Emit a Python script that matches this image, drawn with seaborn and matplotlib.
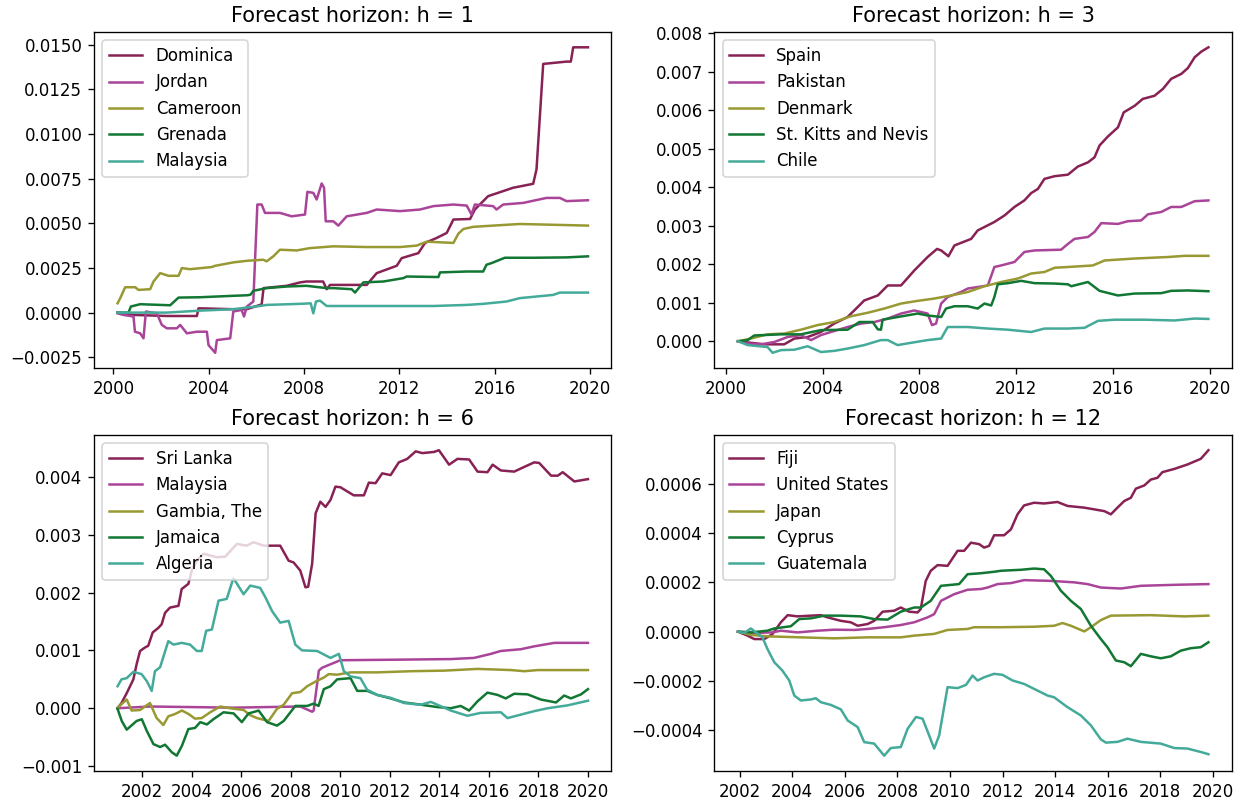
import matplotlib
matplotlib.use("Agg")
import matplotlib.pyplot as plt
import pandas as pd
import seaborn as sns

PALETTE = ["#882255", "#AA4499", "#999933", "#117733", "#44AA99"]

# ---- Forecast horizon h = 1 : (year, cumulative value) ----
dominica = [(2000.17, 0.0), (2000.84, -0.00013), (2002.24, -0.00019), (2003.5, -0.00019),
            (2003.57, 0.00024), (2005.03, 0.00019), (2005.6, 0.00019), (2006.15, 0.00043),
            (2006.22, 0.00045), (2006.3, 0.00137), (2007.27, 0.0015), (2007.83, 0.00169),
            (2008.1, 0.00174), (2008.8, 0.00174), (2008.95, 0.00131), (2009.09, 0.00155),
            (2010.63, 0.00155), (2011.05, 0.00221), (2011.89, 0.00262), (2012.1, 0.00305),
            (2012.8, 0.00333), (2013.08, 0.0039), (2013.57, 0.00418), (2013.99, 0.00446),
            (2014.27, 0.00521), (2014.97, 0.00524), (2015.17, 0.00577), (2015.73, 0.00652),
            (2016.36, 0.0068), (2016.78, 0.00699), (2017.62, 0.00721), (2017.76, 0.00802),
            (2018.04, 0.01392), (2019.02, 0.01405), (2019.2, 0.01405), (2019.3, 0.01485),
            (2019.92, 0.01485)]
jordan = [(2000.17, -0.00004), (2000.42, -0.00013), (2000.84, -0.00022), (2000.9, -0.00107),
          (2001.12, -0.00116), (2001.26, -0.00144), (2001.36, 0.00006), (2001.82, -0.00004),
          (2002.03, -0.00069), (2002.24, -0.00088), (2002.66, -0.00088), (2002.8, -0.00069),
          (2003.08, -0.00116), (2003.5, -0.00107), (2003.92, -0.00107), (2003.99, -0.00182),
          (2004.27, -0.00225), (2004.34, -0.00154), (2004.9, -0.00144), (2005.03, 0.00006),
          (2005.38, 0.00015), (2005.48, -0.00022), (2005.6, 0.00034), (2005.87, 0.00062),
          (2006.04, 0.00605), (2006.22, 0.00605), (2006.36, 0.00558), (2006.99, 0.00558),
          (2007.48, 0.00539), (2008.04, 0.00549), (2008.14, 0.00676), (2008.39, 0.0067),
          (2008.53, 0.00633), (2008.74, 0.00723), (2008.84, 0.00699), (2008.91, 0.00511),
          (2009.23, 0.00511), (2009.44, 0.00487), (2009.79, 0.00539), (2010.63, 0.00558),
          (2011.05, 0.00577), (2012.03, 0.00568), (2012.87, 0.00577), (2013.43, 0.00596),
          (2014.27, 0.00605), (2014.83, 0.00599), (2015.03, 0.00549), (2015.17, 0.00605),
          (2015.94, 0.00596), (2016.08, 0.00577), (2016.36, 0.00605), (2017.2, 0.00614),
          (2018.18, 0.00642), (2018.74, 0.00642), (2019.02, 0.00624), (2019.92, 0.00629)]
cameroon = [(2000.17, 0.00052), (2000.28, 0.0008), (2000.49, 0.00142), (2000.91, 0.00142),
            (2001.05, 0.00127), (2001.54, 0.00131), (2001.68, 0.00174), (2001.96, 0.00221),
            (2002.31, 0.00206), (2002.73, 0.00206), (2002.87, 0.00249), (2003.22, 0.00243),
            (2004.13, 0.00255), (2004.27, 0.00262), (2005.03, 0.00281), (2005.6, 0.0029),
            (2006.29, 0.00296), (2006.43, 0.00287), (2006.71, 0.00315), (2006.99, 0.00352),
            (2007.69, 0.00348), (2008.25, 0.00361), (2009.23, 0.00371), (2010.63, 0.00367),
            (2012.03, 0.00367), (2012.73, 0.00375), (2013.15, 0.00397), (2014.27, 0.0039),
            (2014.48, 0.00442), (2014.69, 0.00468), (2015.1, 0.0048), (2015.94, 0.00487),
            (2017.06, 0.00496), (2019.92, 0.00487)]
grenada = [(2000.17, 0.0), (2000.63, 0.0), (2000.73, 0.00034), (2001.12, 0.00047),
           (2002.38, 0.00041), (2002.73, 0.00084), (2003.64, 0.00086), (2005.03, 0.00094),
           (2005.6, 0.00097), (2005.75, 0.001), (2005.87, 0.00122), (2006.43, 0.00137),
           (2007.27, 0.00146), (2008.1, 0.0015), (2008.95, 0.00137), (2009.23, 0.00137),
           (2010.0, 0.00131), (2010.14, 0.00112), (2010.49, 0.00169), (2011.33, 0.00174),
           (2012.17, 0.00193), (2012.31, 0.00202), (2013.64, 0.00199), (2013.71, 0.00225),
           (2014.83, 0.0023), (2015.52, 0.0023), (2015.66, 0.00268), (2015.87, 0.00277),
           (2016.43, 0.00307), (2017.62, 0.00307), (2019.02, 0.00309), (2019.92, 0.00315)]
malaysia_h1 = [(2000.17, 0.0), (2002.24, 0.0), (2003.64, 0.00011), (2005.03, 0.00019),
               (2006.15, 0.00037), (2006.43, 0.00043), (2007.83, 0.00049), (2008.28, 0.00052),
               (2008.39, -0.00004), (2008.5, 0.00062), (2008.67, 0.00067), (2008.95, 0.00037),
               (2010.63, 0.00037), (2013.43, 0.00037), (2014.83, 0.00043), (2015.52, 0.00049),
               (2016.5, 0.00062), (2017.06, 0.00081), (2018.46, 0.00099), (2018.74, 0.00112),
               (2019.92, 0.00112)]

# ---- Forecast horizon h = 3 ----
spain = [(2000.5, 0.0), (2001.03, -0.00004), (2001.59, -0.00008), (2002.41, -0.00008),
         (2002.83, 0.00007), (2003.38, 0.00011), (2003.93, 0.00024), (2004.48, 0.00046),
         (2005.03, 0.00063), (2005.45, 0.00089), (2005.72, 0.00106), (2006.28, 0.00119),
         (2006.69, 0.00145), (2007.24, 0.00145), (2007.79, 0.00184), (2008.34, 0.00219),
         (2008.73, 0.0024), (2008.9, 0.00236), (2009.2, 0.00221), (2009.45, 0.00249),
         (2010.14, 0.00266), (2010.41, 0.00288), (2011.1, 0.0031), (2011.52, 0.00327),
         (2011.93, 0.00349), (2012.34, 0.00366), (2012.62, 0.00385), (2012.9, 0.00396),
         (2013.17, 0.00422), (2013.59, 0.00429), (2014.14, 0.00433), (2014.55, 0.00454),
         (2014.97, 0.00465), (2015.24, 0.00478), (2015.45, 0.00509), (2015.79, 0.00532),
         (2016.21, 0.00556), (2016.45, 0.00595), (2016.9, 0.00612), (2017.24, 0.0063),
         (2017.72, 0.00638), (2018.07, 0.00656), (2018.41, 0.00682), (2018.83, 0.00695),
         (2019.1, 0.0071), (2019.38, 0.00738), (2019.66, 0.00753), (2019.95, 0.00764)]
pakistan = [(2000.5, 0.0), (2000.9, -0.00006), (2001.45, -0.00008), (2002.0, -0.00002),
            (2002.55, 0.00011), (2003.1, 0.00016), (2003.52, 0.00003), (2003.93, 0.00016),
            (2004.34, 0.00024), (2005.03, 0.00037), (2005.59, 0.00046), (2006.14, 0.0005),
            (2006.69, 0.00059), (2007.24, 0.00072), (2007.79, 0.0008), (2008.34, 0.00072),
            (2008.52, 0.00042), (2008.69, 0.00046), (2008.9, 0.00098), (2009.17, 0.00115),
            (2009.72, 0.00128), (2010.0, 0.00137), (2010.83, 0.00145), (2011.1, 0.00193),
            (2011.38, 0.00197), (2011.93, 0.00206), (2012.34, 0.00232), (2012.76, 0.00236),
            (2013.86, 0.00238), (2014.14, 0.00253), (2014.41, 0.00266), (2014.97, 0.00271),
            (2015.24, 0.00284), (2015.52, 0.00307), (2016.21, 0.00305), (2016.62, 0.00312),
            (2017.17, 0.00314), (2017.45, 0.0033), (2018.0, 0.00336), (2018.41, 0.00349),
            (2018.83, 0.00349), (2019.38, 0.00364), (2019.95, 0.00366)]
denmark = [(2000.5, 0.0), (2001.03, 0.00007), (2001.72, 0.00018), (2002.41, 0.0002),
           (2003.1, 0.0003), (2003.79, 0.00042), (2004.48, 0.0005), (2005.17, 0.00065),
           (2005.86, 0.00074), (2006.55, 0.00085), (2007.24, 0.00098), (2007.93, 0.00105),
           (2008.62, 0.00111), (2009.31, 0.00119), (2010.0, 0.00128), (2010.69, 0.00143),
           (2011.38, 0.00154), (2012.07, 0.00163), (2012.62, 0.00176), (2013.17, 0.0018),
           (2013.59, 0.00191), (2014.14, 0.00193), (2015.17, 0.00197), (2015.66, 0.0021),
           (2016.9, 0.00215), (2018.28, 0.00219), (2018.97, 0.00222), (2019.95, 0.00222)]
st_kitts = [(2000.5, 0.0), (2000.9, 0.00003), (2001.17, 0.00015), (2002.28, 0.00018),
            (2003.1, 0.00018), (2003.93, 0.00029), (2005.03, 0.0003), (2005.52, 0.0005),
            (2006.07, 0.0005), (2006.28, 0.00031), (2006.41, 0.0003), (2006.48, 0.00056),
            (2007.1, 0.00063), (2007.93, 0.00072), (2008.34, 0.00067), (2008.9, 0.00063),
            (2009.1, 0.00085), (2009.45, 0.00091), (2010.0, 0.00091), (2010.41, 0.00085),
            (2010.69, 0.00098), (2010.97, 0.00093), (2011.1, 0.00115), (2011.24, 0.00148),
            (2011.66, 0.00151), (2012.21, 0.00157), (2012.76, 0.00151), (2013.59, 0.0015),
            (2014.14, 0.00148), (2014.28, 0.00143), (2014.97, 0.00154), (2015.45, 0.00131),
            (2016.21, 0.00119), (2016.9, 0.00124), (2018.0, 0.00125), (2018.41, 0.00131),
            (2019.1, 0.00132), (2019.95, 0.0013)]
chile = [(2000.5, 0.0), (2000.9, -0.0001), (2001.72, -0.00015), (2001.93, -0.0003),
         (2002.28, -0.00023), (2002.83, -0.00022), (2003.38, -0.00013), (2003.93, -0.00028),
         (2004.48, -0.00025), (2005.03, -0.00019), (2005.72, -0.0001), (2006.41, 0.00003),
         (2006.69, 0.00003), (2007.1, -0.0001), (2007.66, -0.00004), (2008.34, 0.00003),
         (2008.9, 0.00007), (2009.17, 0.00037), (2010.0, 0.00037), (2010.83, 0.00033),
         (2011.66, 0.0003), (2012.62, 0.00024), (2013.17, 0.00033), (2014.14, 0.00033),
         (2014.83, 0.00035), (2015.38, 0.00053), (2016.07, 0.00056), (2017.31, 0.00056),
         (2018.55, 0.00054), (2019.38, 0.00059), (2019.95, 0.00058)]

# ---- Forecast horizon h = 6 ----
sri_lanka = [(2001.0, 0.0), (2001.16, 0.00009), (2001.37, 0.00026), (2001.64, 0.0005),
             (2001.77, 0.00076), (2001.91, 0.00099), (2002.11, 0.00105), (2002.24, 0.00108),
             (2002.42, 0.00131), (2002.65, 0.00139), (2002.78, 0.00145), (2002.92, 0.00165),
             (2003.12, 0.00174), (2003.46, 0.00177), (2003.59, 0.00206), (2003.86, 0.00215),
             (2004.0, 0.00238), (2004.2, 0.00255), (2004.47, 0.00267), (2005.01, 0.00261),
             (2005.35, 0.00262), (2005.82, 0.00284), (2006.22, 0.00281), (2006.49, 0.00287),
             (2006.9, 0.00281), (2007.57, 0.00281), (2007.91, 0.00255), (2008.11, 0.00252),
             (2008.38, 0.00238), (2008.59, 0.00209), (2008.7, 0.0021), (2008.86, 0.0025),
             (2009.0, 0.00337), (2009.19, 0.00357), (2009.4, 0.00348), (2009.6, 0.0036),
             (2009.8, 0.00383), (2010.0, 0.00382), (2010.54, 0.00368), (2010.95, 0.00368),
             (2011.15, 0.0039), (2011.42, 0.00389), (2011.69, 0.00406), (2012.03, 0.00403),
             (2012.36, 0.00425), (2012.7, 0.00431), (2013.04, 0.00444), (2013.31, 0.00441),
             (2013.78, 0.00443), (2013.98, 0.00446), (2014.39, 0.00421), (2014.73, 0.00431),
             (2015.2, 0.0043), (2015.54, 0.00409), (2015.94, 0.00408), (2016.15, 0.00421),
             (2016.48, 0.00411), (2017.02, 0.00409), (2017.42, 0.00417), (2017.83, 0.00425),
             (2018.03, 0.00424), (2018.51, 0.00402), (2018.78, 0.00402), (2018.98, 0.00408),
             (2019.45, 0.00392), (2020.0, 0.00396)]
malaysia_h6 = [(2001.0, 0.0), (2002.31, 0.00003), (2005.68, 0.00001), (2007.0, 0.00002),
               (2008.38, 0.00003), (2008.86, -0.00006), (2008.92, -0.00004), (2009.13, 0.00065),
               (2009.26, 0.0007), (2009.6, 0.00076), (2010.0, 0.00083), (2012.43, 0.00084),
               (2014.46, 0.00085), (2015.4, 0.00087), (2016.08, 0.00094), (2016.48, 0.00099),
               (2017.29, 0.00102), (2017.83, 0.00107), (2018.64, 0.00113), (2020.0, 0.00113)]
gambia = [(2001.0, 0.00001), (2001.37, 0.00015), (2001.57, -0.00004), (2001.91, -0.00003),
          (2002.31, 0.00009), (2002.58, -0.00017), (2002.85, -0.00029), (2003.05, -0.00014),
          (2003.32, -0.0001), (2003.6, -0.00004), (2003.87, -0.0001), (2004.13, -0.00018),
          (2004.4, -0.00017), (2004.74, -0.00007), (2005.15, 0.00003), (2005.55, 0.0),
          (2006.09, -0.00003), (2006.36, -0.00012), (2006.63, -0.00017), (2007.1, -0.00022),
          (2007.44, -0.00001), (2007.71, 0.00006), (2008.05, 0.00026), (2008.38, 0.00028),
          (2008.66, 0.00038), (2008.99, 0.00046), (2009.33, 0.00053), (2009.53, 0.00059),
          (2009.87, 0.00058), (2010.41, 0.00062), (2011.49, 0.00062), (2012.84, 0.00064),
          (2014.19, 0.00065), (2015.54, 0.00068), (2016.89, 0.00066), (2017.43, 0.00064),
          (2017.97, 0.00066), (2020.0, 0.00066)]
jamaica = [(2001.0, -0.00001), (2001.17, -0.00022), (2001.37, -0.00037), (2001.77, -0.00022),
           (2001.98, -0.00019), (2002.18, -0.00039), (2002.45, -0.00062), (2002.72, -0.00067),
           (2002.92, -0.00063), (2003.19, -0.00076), (2003.39, -0.00082), (2003.6, -0.00065),
           (2003.86, -0.00036), (2004.13, -0.00034), (2004.34, -0.00024), (2004.61, -0.00028),
           (2004.87, -0.00019), (2005.28, -0.00007), (2005.69, -0.00009), (2006.02, -0.00024),
           (2006.29, -0.00009), (2006.7, -0.00004), (2007.04, -0.00024), (2007.44, -0.0003),
           (2007.71, -0.00022), (2008.18, 0.00004), (2008.66, 0.00004), (2008.92, 0.00008),
           (2009.12, 0.00004), (2009.33, 0.00033), (2009.6, 0.00038), (2009.87, 0.0005),
           (2010.41, 0.00052), (2010.68, 0.0003), (2011.09, 0.0003), (2011.49, 0.00023),
           (2012.03, 0.00017), (2012.57, 0.0001), (2013.11, 0.00007), (2013.92, 0.00002),
           (2014.46, 0.0), (2014.86, 0.00004), (2015.2, -0.00004), (2015.54, 0.00012),
           (2015.94, 0.00027), (2016.35, 0.00023), (2016.68, 0.00017), (2017.02, 0.00025),
           (2017.56, 0.00024), (2018.1, 0.00015), (2018.71, 0.0001), (2019.04, 0.00022),
           (2019.31, 0.00017), (2019.72, 0.00024), (2020.0, 0.00033)]
algeria = [(2001.0, 0.00038), (2001.16, 0.0005), (2001.37, 0.00052), (2001.64, 0.00063),
           (2001.97, 0.00059), (2002.18, 0.00047), (2002.38, 0.0003), (2002.51, 0.00064),
           (2002.72, 0.00071), (2003.05, 0.00116), (2003.26, 0.0011), (2003.59, 0.00113),
           (2003.93, 0.0011), (2004.2, 0.00099), (2004.4, 0.00099), (2004.58, 0.00134),
           (2004.81, 0.00136), (2005.08, 0.00186), (2005.41, 0.00189), (2005.68, 0.00225),
           (2006.09, 0.00197), (2006.36, 0.00212), (2006.76, 0.00208), (2006.97, 0.00192),
           (2007.24, 0.00168), (2007.57, 0.00148), (2007.91, 0.00151), (2008.18, 0.0011),
           (2008.45, 0.001), (2009.06, 0.00099), (2009.6, 0.00087), (2009.94, 0.00094),
           (2010.14, 0.00064), (2010.41, 0.00055), (2010.81, 0.00052), (2011.08, 0.00032),
           (2011.49, 0.00023), (2012.03, 0.00018), (2012.57, 0.00009), (2013.24, 0.00006),
           (2013.65, 0.00011), (2013.92, 0.00006), (2014.46, -0.00004), (2015.13, -0.00013),
           (2015.67, -0.00008), (2016.48, -0.00007), (2016.75, -0.00017), (2017.29, -0.00011),
           (2017.83, -0.00005), (2018.37, 0.0), (2019.18, 0.00005), (2020.0, 0.00013)]

# ---- Forecast horizon h = 12 ----
fiji = [(2001.94, 0.0), (2002.3, -0.000016), (2002.56, -0.00003), (2002.94, -0.00003),
        (2003.25, -0.00001), (2003.57, 0.000038), (2003.83, 0.000067), (2004.2, 0.000062),
        (2004.71, 0.000065), (2005.09, 0.000067), (2005.35, 0.000058), (2005.85, 0.000044),
        (2006.23, 0.000038), (2006.49, 0.000024), (2006.87, 0.000031), (2007.12, 0.000044),
        (2007.44, 0.000081), (2007.88, 0.000085), (2008.13, 0.000098), (2008.45, 0.000081),
        (2008.77, 0.000078), (2008.89, 0.000092), (2009.08, 0.000206), (2009.27, 0.000247),
        (2009.53, 0.00027), (2009.91, 0.000267), (2010.29, 0.000328), (2010.54, 0.000328),
        (2010.8, 0.000361), (2011.11, 0.000355), (2011.3, 0.000341), (2011.49, 0.000348),
        (2011.68, 0.000391), (2012.06, 0.000391), (2012.32, 0.000415), (2012.57, 0.000476),
        (2012.82, 0.000512), (2013.2, 0.000523), (2013.58, 0.00052), (2014.09, 0.000526),
        (2014.47, 0.00051), (2015.11, 0.000503), (2015.49, 0.000496), (2015.87, 0.000489),
        (2016.12, 0.000476), (2016.37, 0.000503), (2016.63, 0.00053), (2016.88, 0.000543),
        (2017.07, 0.00058), (2017.39, 0.000593), (2017.64, 0.000617), (2017.89, 0.000624),
        (2018.08, 0.000647), (2018.53, 0.00066), (2019.03, 0.000678), (2019.54, 0.000701),
        (2019.83, 0.000736)]
united_states = [(2001.94, 0.0), (2002.56, -0.000005), (2003.25, -0.000003), (2003.57, 0.000004),
                 (2004.2, -0.000003), (2004.97, 0.000004), (2005.6, 0.000008), (2006.36, 0.000007),
                 (2006.87, 0.000011), (2007.5, 0.000018), (2008.13, 0.000027), (2008.64, 0.000038),
                 (2009.15, 0.000058), (2009.4, 0.000071), (2009.66, 0.000125), (2010.16, 0.000152),
                 (2010.67, 0.00017), (2011.18, 0.000173), (2011.43, 0.000179), (2011.81, 0.000193),
                 (2012.32, 0.000197), (2012.82, 0.000209), (2013.84, 0.000206), (2014.73, 0.0002),
                 (2015.23, 0.000193), (2015.74, 0.000179), (2016.5, 0.000175), (2017.26, 0.000186),
                 (2018.53, 0.00019), (2019.83, 0.000193)]
japan = [(2001.94, 0.0), (2002.43, -0.000013), (2003.06, -0.000019), (2004.33, -0.000023),
         (2005.6, -0.000027), (2006.87, -0.000023), (2008.13, -0.000023), (2008.64, -0.000016),
         (2009.4, -0.000009), (2009.91, 0.000007), (2010.67, 0.000011), (2010.92, 0.000018),
         (2011.94, 0.000018), (2013.2, 0.00002), (2013.96, 0.000024), (2014.28, 0.000035),
         (2014.6, 0.000024), (2015.11, 0.000001), (2015.36, 0.000018), (2015.74, 0.000047),
         (2016.12, 0.000065), (2017.64, 0.000067), (2018.91, 0.000062), (2019.83, 0.000065)]
cyprus = [(2001.94, 0.0), (2002.43, -0.000003), (2003.06, 0.000004), (2003.32, 0.000013),
          (2003.95, 0.000022), (2004.27, 0.000051), (2004.71, 0.000054), (2005.22, 0.000065),
          (2005.85, 0.000065), (2006.61, 0.000062), (2007.12, 0.000051), (2007.63, 0.000049),
          (2008.13, 0.000081), (2008.64, 0.000098), (2008.89, 0.000098), (2009.27, 0.000125),
          (2009.66, 0.000186), (2010.35, 0.000193), (2010.67, 0.000233), (2011.18, 0.000237),
          (2011.68, 0.000243), (2011.94, 0.000247), (2012.7, 0.000251), (2013.2, 0.000256),
          (2013.58, 0.000253), (2013.84, 0.000226), (2014.22, 0.000166), (2014.6, 0.000125),
          (2014.98, 0.000092), (2015.36, 0.000024), (2015.74, -0.00003), (2015.99, -0.000063),
          (2016.31, -0.000117), (2016.63, -0.000124), (2016.88, -0.00014), (2017.26, -0.00009),
          (2017.64, -0.0001), (2018.02, -0.000108), (2018.4, -0.0001), (2018.78, -0.000077),
          (2019.16, -0.000067), (2019.54, -0.000063), (2019.83, -0.000043)]
guatemala = [(2001.94, 0.0), (2002.18, -0.000005), (2002.43, 0.000013), (2002.62, -0.000003),
             (2002.87, -0.000023), (2003.06, -0.00007), (2003.32, -0.000124), (2003.63, -0.000158),
             (2003.89, -0.000198), (2004.08, -0.000259), (2004.33, -0.000279), (2004.71, -0.000275),
             (2004.9, -0.00027), (2005.09, -0.000286), (2005.47, -0.000297), (2005.85, -0.000315),
             (2006.11, -0.00036), (2006.49, -0.000387), (2006.74, -0.000448), (2007.12, -0.000454),
             (2007.5, -0.000503), (2007.75, -0.000472), (2008.13, -0.000468), (2008.39, -0.000394),
             (2008.71, -0.000346), (2008.96, -0.000353), (2009.21, -0.000421), (2009.4, -0.000474),
             (2009.59, -0.000421), (2009.91, -0.000225), (2010.29, -0.000229), (2010.61, -0.000216),
             (2010.86, -0.000178), (2011.05, -0.000198), (2011.3, -0.000185), (2011.68, -0.000171),
             (2012.0, -0.000175), (2012.38, -0.000198), (2012.82, -0.000212), (2013.2, -0.000232),
             (2013.71, -0.000259), (2013.96, -0.000266), (2014.47, -0.000306), (2014.98, -0.00034),
             (2015.36, -0.00038), (2015.74, -0.000437), (2015.93, -0.00045), (2016.37, -0.000447),
             (2016.75, -0.000434), (2017.26, -0.000447), (2018.02, -0.000454), (2018.53, -0.000472),
             (2019.03, -0.000474), (2019.54, -0.000488), (2019.83, -0.000497)]

TITLES = ["Forecast horizon: h = 1", "Forecast horizon: h = 3",
          "Forecast horizon: h = 6", "Forecast horizon: h = 12"]
COUNTRIES = [
    ["Dominica", "Jordan", "Cameroon", "Grenada", "Malaysia"],
    ["Spain", "Pakistan", "Denmark", "St. Kitts and Nevis", "Chile"],
    ["Sri Lanka", "Malaysia", "Gambia, The", "Jamaica", "Algeria"],
    ["Fiji", "United States", "Japan", "Cyprus", "Guatemala"],
]
SERIES = [
    [dominica, jordan, cameroon, grenada, malaysia_h1],
    [spain, pakistan, denmark, st_kitts, chile],
    [sri_lanka, malaysia_h6, gambia, jamaica, algeria],
    [fiji, united_states, japan, cyprus, guatemala],
]
XTICKS = [list(range(2000, 2021, 4)), list(range(2000, 2021, 4)),
          list(range(2002, 2021, 2)), list(range(2002, 2021, 2))]

DPI = 120
plt.rcParams.update({
    "font.family": "DejaVu Sans",
    "font.size": 10,
    "xtick.labelsize": 10,
    "ytick.labelsize": 10,
    "legend.fontsize": 10,
    "axes.titlesize": 12.5,
    "lines.linewidth": 1.5,
})

fig, axes = plt.subplots(2, 2, figsize=(1242 / DPI, 803 / DPI), dpi=DPI)
fig.subplots_adjust(left=0.0757, right=0.9919, bottom=0.0399, top=0.9601,
                    wspace=0.199, hspace=0.199)

for ax, title, names, series, xticks in zip(axes.flat, TITLES, COUNTRIES, SERIES, XTICKS):
    rows = [(name, yr, val) for name, pts in zip(names, series) for yr, val in pts]
    df = pd.DataFrame(rows, columns=["country", "year", "value"])
    sns.lineplot(data=df, x="year", y="value", hue="country", hue_order=names,
                 palette=PALETTE, estimator=None, ax=ax, linewidth=1.5)
    ax.set_title(title)
    ax.set_xlabel("")
    ax.set_ylabel("")
    ax.set_xticks(xticks)
    ax.set_xticklabels([str(t) for t in xticks])
    leg = ax.get_legend()
    handles = leg.legend_handles
    labels = [t.get_text() for t in leg.get_texts()]
    leg.remove()
    ax.legend(handles, labels, loc="upper left")

fig.savefig("out.png", dpi=DPI)
